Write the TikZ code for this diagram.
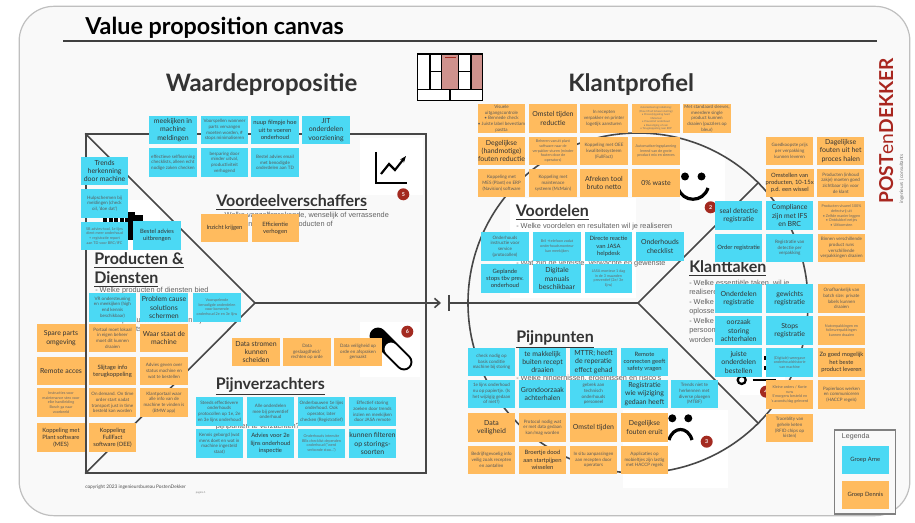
\documentclass[tikz,border=0pt]{standalone}
\usepackage{fontspec}
\setmainfont{Lato}
\newfontfamily\bodyFont{Liberation Sans}
\usetikzlibrary{arrows.meta}

\definecolor{armeBlue}{HTML}{4BD9F4}
\definecolor{dennisOrange}{HTML}{FFBB5E}
\definecolor{panelGray}{HTML}{F9F9F9}
\definecolor{badgeRed}{HTML}{A32A20}
\definecolor{brandRed}{HTML}{A8261F}
\definecolor{iconRose}{HTML}{CF928D}

\tikzset{
	stickyNote/.style={rectangle, minimum width=35.6pt, minimum height=21.3pt, inner sep=0pt, align=center},
	armeNote/.style={stickyNote, fill=armeBlue},
	dennisNote/.style={stickyNote, fill=dennisOrange},
	noteL/.style={font=\fontsize{5.2}{6.3}\selectfont, text=black!80},
	noteM/.style={font=\fontsize{4.4}{5.4}\selectfont, text=black!80},
	noteS/.style={font=\fontsize{3.4}{4.3}\selectfont, text=black!65},
	noteXS/.style={font=\fontsize{2.8}{3.5}\selectfont, text=black!60},
	noteXXS/.style={font=\fontsize{2}{2.6}\selectfont, text=black!55},
	canvasLine/.style={draw=black!72, line width=1.2pt},
	whitePatch/.style={fill=white, draw=none},
	iconLine/.style={draw=black, line width=2.4pt},
	badgeDot/.style={circle, fill=badgeRed, text=white, minimum size=9pt, inner sep=0pt, font=\bfseries\fontsize{4}{4}\selectfont},
	mainHead/.style={font=\bfseries\fontsize{18}{20}\selectfont, text=black!80, anchor=base west, inner sep=0pt},
	subHead/.style={font=\bfseries\fontsize{12}{13}\selectfont, text=black!80, anchor=base west, inner sep=0pt},
	bodyText/.style={font=\bodyFont\fontsize{5.5}{7.1}\selectfont, text=black!62, anchor=base west, align=left, inner sep=0pt},
}

\begin{document}
\begin{tikzpicture}[x=0.75pt, y=-0.75pt]
	\useasboundingbox (0,0) rectangle (915,523);

	\node[rectangle, draw=black!25, fill=panelGray, line width=0.9pt, rounded corners=26pt, minimum width=668pt, minimum height=382pt, inner sep=0pt](panelBox) at (464.5,261){};

	\fill[whitePatch] (360,138) rectangle (423,195);
	\fill[whitePatch] (360,322) rectangle (420,377);
	\fill[whitePatch] (100,200) rectangle (160,255);
	\fill[whitePatch] (510,198) rectangle (636,298);
	\fill[whitePatch] (680,150) rectangle (725,210);
	\fill[whitePatch] (623,410) rectangle (728,488);
	\fill[whitePatch] (740,350) rectangle (785,395);

	\node[font=\bfseries\fontsize{17.5}{19}\selectfont, text=black, anchor=base west, inner sep=0pt](titleText) at (85,35){Value proposition canvas};
	\coordinate (ruleStart) at (63,41);
	\coordinate (ruleEnd) at (877,41);
	\draw[draw=black!75, line width=0.9pt] (ruleStart) -- (ruleEnd);

	\node[mainHead](waardeHead) at (165.5,92){Waardepropositie};
	\node[mainHead](klantHead) at (568,92){Klantprofiel};

	\node[rectangle, canvasLine, minimum width=255pt, minimum height=254pt, inner sep=0pt](waardeBox) at (256,303.5){};
	\node[circle, canvasLine, minimum size=255pt, inner sep=0pt](klantCircle) at (638,303){};
	\coordinate (waardeCenter) at (255,303);
	\coordinate (klantCenter) at (638,303);
	\coordinate (rightTip) at (441,303);
	\coordinate (leftTip) at (432,303);
	\coordinate (barTop) at (449,295);
	\coordinate (barBottom) at (449,311);

	\draw[canvasLine] (waardeBox.north west) -- (waardeCenter);
	\draw[canvasLine] (waardeBox.south west) -- (waardeCenter);
	\draw[canvasLine, -{Straight Barb[length=4pt, width=7pt]}] (waardeCenter) -- (leftTip |- waardeCenter) -- (rightTip);
	\draw[canvasLine] (klantCenter) -- (barTop |- klantCenter);
	\draw[canvasLine] (barTop) -- (barBottom);
	\draw[canvasLine] (klantCenter) -- (klantCircle.45);
	\draw[canvasLine] (klantCenter) -- (klantCircle.-45);

	\draw[fill=white, draw=black, line width=1.1pt] (417.5,54) rectangle (482.5,100.5);
	\fill[iconRose] (441.7,54) rectangle (458.3,89.3);
	\fill[iconRose] (471,54) rectangle (482.5,89.3);
	\draw[draw=black, line width=1.1pt] (417.5,54) rectangle (482.5,100.5);
	\draw[draw=black, line width=1.1pt] (417.5,89.3) -- (482.5,89.3);
	\draw[draw=black, line width=1.1pt] (450,89.3) -- (450,100.5);
	\draw[draw=black, line width=1.1pt] (430,54) -- (430,89.3);
	\draw[draw=black, line width=1.1pt] (441.7,54) -- (441.7,89.3);
	\draw[draw=black, line width=1.1pt] (458.3,54) -- (458.3,89.3);
	\draw[draw=black, line width=1.1pt] (471,54) -- (471,89.3);
	\draw[draw=black, line width=1.1pt] (430,71.7) -- (441.7,71.7);
	\draw[draw=black, line width=1.1pt] (458.3,71.7) -- (471,71.7);
	\draw[draw=badgeRed, line width=1.1pt] (445,57.7) -- (456,57.7);

	\draw[draw=black, line width=1.6pt, line join=miter] (376,152) -- (376,183) -- (407,183);
	\draw[draw=black, line width=1.6pt, -{Stealth[length=5pt]}] (381,174) -- (389,164) -- (395,170) -- (406,156);
	\fill[black] (128,212) rectangle (135,240);
	\fill[black] (135,215) rectangle (143,225);
	\draw[draw=black, line width=3pt, dash pattern=on 3pt off 1.2pt] (103,220) -- (128,220);

	\draw[draw=black, line width=12.7pt, line cap=round] (378,336) -- (404,362);
	\draw[draw=white, line width=9.6pt, line cap=round] (391,349) -- (404,362);

	\fill[black] (685,176.5) circle (3pt);
	\fill[black] (701.5,176.5) circle (3pt);
	\draw[iconLine] (678,188) .. controls (683,203) and (703,203) .. (708,188);
	\fill[black] (672.3,418.3) circle (3pt);
	\fill[black] (688.3,418.3) circle (3pt);
	\draw[iconLine] (669,440) .. controls (673,426) and (688,426) .. (692,440);
	\fill[black] (764,355.7) rectangle (768,359.7);
	\fill[black] (764,366) rectangle (768,370);
	\draw[draw=black, line width=1.7pt] (741.7,380) circle (3pt);
	\draw[draw=black, line width=2.2pt] (752.7,380) -- (776,380);

	\node[badgeDot](badgeFive) at (403.3,194.3){5};
	\node[badgeDot](badgeSix) at (407.3,331.7){6};
	\node[badgeDot](badgeTwo) at (710.7,207.3){2};
	\node[badgeDot](badgeThree) at (706.7,441.7){3};
	\node[badgeDot](badgeFour) at (766,391.7){4};

	\node[subHead](voordeelHead) at (216,207){\underline{Voordeelverschaffers}};
	\node[subHead](productenHead) at (94,265){\underline{Producten \&}};
	\node[subHead](dienstenHead) at (94,284){\underline{Diensten}};
	\node[subHead](verzachtHead) at (215.5,390){\underline{Pijnverzachters}};
	\node[subHead](voordelenHead) at (515.5,217){\underline{Voordelen}};
	\node[subHead](pijnHead) at (516,343){\underline{Pijnpunten}};
	\node[subHead](takenHead) at (689,273){\underline{Klanttaken}};

	\node[bodyText](voordeelBodyOne) at (220,217.5){- Welke vanzelfsprekende, wenselijk of verrassende};
	\node[bodyText](voordeelBodyTwo) at (220,227){voordelen leveren uw producten of};
	\node[bodyText](productenBodyOne) at (95,292.5){- Welke producten of diensten bied};
	\node[bodyText](productenBodyTwo) at (95,323){- Welke producten of diensten zijn};
	\node[bodyText](productenBodyThree) at (95,332){van het grootste deel voor};
	\node[bodyText](verzachtBody) at (215.5,429){pijnpunten te verzachten?};
	\node[bodyText](voordelenBodyOne) at (516,228.5){- Welke voordelen en resultaten wil je realiseren};
	\node[bodyText](voordelenBodyTwo) at (516,265.5){- Wat zijn de vereiste, verwachte en gewenste};
	\node[bodyText](pijnBody) at (516,381){- Welke hindernissen, ergernissen en risico's};
	\node[bodyText](takenBodyOne) at (689,285.5){- Welke essentiële taken, wil je};
	\node[bodyText](takenBodyTwo) at (689,295){realiseren};
	\node[bodyText](takenBodyThree) at (689,304.5){- Welke};
	\node[bodyText](takenBodyFour) at (689,314){oplossen};
	\node[bodyText](takenBodyFive) at (689,323.5){- Welke};
	\node[bodyText](takenBodySix) at (689,333){persoonlijke};
	\node[bodyText](takenBodySeven) at (689,342.5){worden};

	\node[armeNote, noteL](meekijkenNote) at (173,130){meekijken in\\machine\\meldingen};
	\node[armeNote, noteS](voorspellenNote) at (224.5,130){Voorspellen wanneer\\parts vervangen\\moeten worden, \#\\stops minimaliseren};
	\node[armeNote, noteM](filmpjeNote) at (275,130){nuup filmpje hoe\\uit te voeren\\onderhoud};
	\node[armeNote, noteL](jitNote) at (326,130){JIT\\onderdelen\\voorziening};
	\node[armeNote, noteS](selflearningNote) at (173,162.5){effectieve selflearning\\checklists, alleen echt\\nodige zaken checken};
	\node[armeNote, noteS](besparingNote) at (224.5,162.5){besparing door\\minder uitval,\\productiviteit\\verhogend};
	\node[armeNote, noteS](emailNote) at (275,162.5){Bestel advies email\\met benodigde\\onderdelen aan TD};

	\node[armeNote, noteL](trendsNote) at (104.6,171){Trends\\herkenning\\door machine};
	\node[armeNote, noteS](hulpNote) at (104.6,203.5){Hulpschermen bij\\meldingen (check\\oil, 'doe dat')};
	\node[armeNote, noteXS](adviesToolNote) at (104.6,236){SB advies-tool, 1e lijns\\dient meer onderhoud\\+ registratie report\\aan TD voor BRC/IFC};
	\node[armeNote, noteM](uitbrengenNote) at (157,235.5){Bestel advies\\uitbrengen};
	\node[armeNote, noteS](vrNote) at (112.5,307.5){VR ondersteuning\\en meekijken (high\\end kennis\\beschikbaar)};
	\node[armeNote, noteL](problemNote) at (164,307.5){Problem cause\\solutions\\schermen};
	\node[armeNote, noteXS](benodigdNote) at (217,307.5){Voorspelende\\benodigde onderdelen\\voor komende\\onderhoud 2e en 3e lijns};

	\node[dennisNote, noteL](spareNote) at (61,338){Spare parts\\omgeving};
	\node[dennisNote, noteS](portaalNote) at (112.5,338){Portaal moet lokaal\\in eigen beheer\\moet dit kunnen\\draaien};
	\node[dennisNote, noteL](waarNote) at (164,338){Waar staat de\\machine};
	\node[dennisNote, noteL](remoteNote) at (61,371){Remote acces};
	\node[dennisNote, noteM](slijtageNote) at (112.5,371){Slijtage info\\terugkoppeling};
	\node[dennisNote, noteS](statusNote) at (164,371){Advies geven over\\status machine en\\wat te bestellen};
	\node[dennisNote, noteXS](instructiesNote) at (61,402.5){Instructies voor\\maintenance stex voor\\elke handleiding\\Bosch ga naar\\voorbeeld};
	\node[dennisNote, noteS](demandNote) at (112.5,402.5){On demand. On time\\order start nadat\\transport just in time\\besteld kan worden};
	\node[dennisNote, noteS](klantportaalNote) at (164,402.5){Klantportaal waar\\alle info van de\\machine te vinden is\\(BMW app)};
	\node[dennisNote, noteM](plantNote) at (61,437.5){Koppeling met\\Plant software\\(MES)};
	\node[dennisNote, noteM](fullfactNote) at (112.5,437.5){Koppeling\\FullFact\\software (OEE)};

	\node[dennisNote, noteM](inzichtNote) at (224.5,228){Inzicht krijgen};
	\node[dennisNote, noteM](efficientieNote) at (275.3,228){Efficientie\\verhogen};
	\node[dennisNote, noteL](stromenNote) at (256,352){Data stromen\\kunnen\\scheiden};
	\node[dennisNote, noteS](geslaagdNote) at (307,352){Data\\geslaagdheid/\\rechten op orde};
	\node[dennisNote, noteS](veiligOrdeNote) at (358,352){Data veiligheid op\\orde en afspraken\\gemaakt};

	\node[armeNote, noteS](protocollenNote) at (219.3,411.5){Steeds effectievere\\onderhouds\\protocollen op 1e, 2e\\en 3e lijns onderhoud};
	\node[armeNote, noteS](preventiefNote) at (270.5,411.5){Alle onderdelen\\mee bij preventief\\onderhoud};
	\node[armeNote, noteS](onderbouwenNote) at (321.5,411.5){Onderbouwen 1e lijns\\onderhoud. Ook\\operator, later\\checken (Registratief)};
	\node[armeNote, noteS](storingNote) at (372.5,411.5){Effectief storing\\zoeken door trends\\inzien en meekijken\\door JASA remote};
	\node[armeNote, noteS](kennisNote) at (219.3,443.5){Kennis geborgd (wat\\mens doet en wat in\\machine ingesteld\\staat)};
	\node[armeNote, noteM](inspectieNote) at (270.5,443.5){Advies voor 2e\\lijns onderhoud\\inspectie};
	\node[armeNote, noteXS](intensiteNote) at (321.5,443.5){Onderhouds intensite\\BBs checklist dependen\\onderhoud ("werd\\verbonde stoo...")};
	\node[armeNote, noteL](filterenNote) at (372.5,443.5){kunnen filteren\\op storings-\\soorten};

	\node[dennisNote, noteS](visueleNote) at (501.5,118.5){Visuele\\uitgangscontrole\\• Bennede check\\• Juiste label bevestiam\\pastta};
	\node[dennisNote, noteL](reductieNote) at (553,118.5){Omstel tijden\\reductie};
	\node[dennisNote, noteS](receptenNote) at (604,118.5){In recepten\\verpakker en printer\\logetijk aansturen};
	\node[dennisNote, noteXXS](robotNote) at (656,118.5){Automatisering/robotising:\\(Flow lift ed lichaam sluiting)\\• Proces(in)gedrag heart\\Materiaal\\• Preventief onderhoud\\• Bevestiging of cam\\• Terugkoppeling naar ERP};
	\node[dennisNote, noteS](sleevesNote) at (707,118.5){Met standaard sleeves,\\meerdere single\\product kunnen\\draaien (puzzlers op\\bleur)};
	\node[dennisNote, noteL](handmatigNote) at (501.5,151){Degelijkse\\(handmotige)\\fouten reductie};
	\node[dennisNote, noteXS](beherenNote) at (553,151){Beheren vanuit plant\\software naar de\\verpakker sturen (minder\\fouten door de\\operators)};
	\node[dennisNote, noteS](oeeNote) at (604,151){Koppeling met OEE\\kwaliteitssysteem\\(FullFact)};
	\node[dennisNote, noteXS](planningNote) at (656,151){Automatiseringsplanning\\lerend van de grote\\product mix en sleeves};
	\node[dennisNote, noteS](mesErpNote) at (501.5,183){Koppeling met\\MES (Plant) en ERP\\(Navision) software};
	\node[dennisNote, noteS](mcmainNote) at (553,183){Koppeling met\\maintenace\\systeem (McMain)};
	\node[dennisNote, noteL](afrekenNote) at (604,183){Afreken tool\\bruto netto};
	\node[dennisNote, noteL](wasteNote) at (656,183){0\% waste};

	\node[armeNote, noteS](instructieNote) at (505,246.5){Onderhouds\\instructie voor\\service\\(protocollen)};
	\node[armeNote, noteXS](brilNote) at (557,246.5){Bril +telefoon zodat\\onderhoudsmonteur\\kan meekijken};
	\node[armeNote, noteM](helpdeskNote) at (608.5,246.5){Directe reactie\\van JASA\\helpdesk};
	\node[armeNote, noteL](checklistNote) at (660,246.5){Onderhouds\\checklist};
	\node[armeNote, noteM](stopsNote) at (505,278.5){Geplande\\stops tbv prev.\\onderhoud};
	\node[armeNote, noteL](manualsNote) at (557,278.5){Digitale\\manuals\\beschikbaar};
	\node[armeNote, noteXS](jasaNote) at (608.5,278.5){JASA monteur 1 dag\\in de 3 maanden\\preventief (2e/ 3e\\lijns)};

	\node[armeNote, noteS](conditieNote) at (491.5,362){check nodig op\\basis conditie\\machine bij storing};
	\node[armeNote, noteL](makkelijkNote) at (542.5,362){te makkelijk\\buiten recept\\draaien};
	\node[armeNote, noteL](mttrNote) at (593.5,362){MTTR; heeft\\de reperatie\\effect gehad};
	\node[armeNote, noteM](connectenNote) at (644.5,362){Remote\\connecten geeft\\safety vragen};
	\node[armeNote, noteS](papiertjeNote) at (491.5,394){1e lijns onderhoud\\nu op papiertje. (Is\\het wijzigig gedaan\\of niet?)};
	\node[armeNote, noteL](oorzaakNote) at (542.5,394){Grondoorzaak\\achterhalen};
	\node[armeNote, noteS](gebrekNote) at (593.5,394){gebrek aan\\technisch\\onderhouds\\personeel};
	\node[armeNote, noteL](wijzigingNote) at (644.5,394){Registratie\\wie wijziging\\gedaan heeft};
	\node[armeNote, noteS](ploegenNote) at (694.5,394){Trends niet te\\herkennen met\\diverse ploegen\\(MTBF)};

	\node[dennisNote, noteL](veiligheidNote) at (491.5,427.5){Data\\veiligheid};
	\node[dennisNote, noteS](protocolNote) at (542.5,427.5){Protocol nodig wat\\er met data gedaan\\kan/mag worden};
	\node[dennisNote, noteL](omstelNote) at (593.5,427.5){Omstel tijden};
	\node[dennisNote, noteL](eruitNote) at (644.5,427.5){Degelijkse\\fouten eruit};
	\node[dennisNote, noteS](gevoeligNote) at (491.5,460){Bedrijfsgevoelig info\\veilig zoals recepten\\en aantallen};
	\node[dennisNote, noteM](broertjeNote) at (542.5,460){Broertje dood\\aan startpijpen\\wisselen};
	\node[dennisNote, noteS](insituNote) at (593.5,460){In situ aanpassingen\\aan recepten door\\operators};
	\node[dennisNote, noteS](haccpNote) at (644.5,460){Applicaties op\\mobieltjes zijn lastig\\met HACCP regels};

	\node[dennisNote, noteS](goedkoopNote) at (789.7,151){Goedkoopste prijs\\per verpakking\\kunnen leveren};
	\node[dennisNote, noteL](procesNote) at (840.7,151){Dagelijkse\\fouten uit het\\proces halen};
	\node[dennisNote, noteM](omstellenNote) at (789.7,183){Omstellen van\\producten, 10-15x\\p.d. een wissel};
	\node[dennisNote, noteS](zichtbaarNote) at (840.7,183){Producten (inhoud\\zakje) moeten goed\\zichtbaar zijn voor\\de klant};
	\node[armeNote, noteL](sealNote) at (738.7,215.7){seal detectie\\registratie};
	\node[armeNote, noteL](complianceNote) at (789.7,215.7){Compliance\\zijn met IFS\\en BRC};
	\node[dennisNote, noteXS](defectNote) at (841.5,215.7){Producten visueel 100\%\\defectvrij uit\\• Zelfde manier leggen\\• Ontdubbel netjes\\• Uitkomsten};
	\node[armeNote, noteM](orderNote) at (738.7,248){Order registratie};
	\node[armeNote, noteS](detectieNote) at (789.7,248){Registratie van\\detectie per\\verpakking};
	\node[dennisNote, noteS](runsNote) at (841.5,248){Binnen verschillende\\product runs\\verschillende\\verpakkingen draaien};
	\node[armeNote, noteL](onderdelenNote) at (738.7,298.5){Onderdelen\\registratie};
	\node[armeNote, noteL](gewichtsNote) at (789.7,298.5){gewichts\\registratie};
	\node[dennisNote, noteS](batchNote) at (841.5,298.5){Onafhankelijk van\\batch size: private\\labels kunnen\\draaien};
	\node[armeNote, noteL](achterhalenNote) at (738.7,330.5){oorzaak\\storing\\achterhalen};
	\node[armeNote, noteL](registratieNote) at (789.7,330.5){Stops\\registratie};
	\node[dennisNote, noteXS](folieNote) at (841.5,330.5){Nutverpakkingen en\\foliesverpakkingen\\kunnen draaien};
	\node[armeNote, noteL](bestellenNote) at (738.7,362.5){juiste\\onderdelen\\bestellen};
	\node[armeNote, noteXS](historieNote) at (789.7,362.5){(Digitale) weergave\\onderhoudshistorie\\van machine};
	\node[dennisNote, noteM](besteNote) at (841.5,362.5){Zo goed mogelijk\\het beste\\product leveren};
	\node[dennisNote, noteXS](kleineNote) at (789.7,394.5){Kleine orders / Korte\\runs\\S'morgens besteld en\\'s avonds/dag geleverd};
	\node[dennisNote, noteS](papierloosNote) at (841.5,394.5){Papierloos werken\\en communiceren\\(HACCP regels)};
	\node[dennisNote, noteS](traceNote) at (789.7,428){Traceblity van\\gehele keten\\(RFID chips op\\kisten)};

	\node[rectangle, draw=black!50, line width=0.9pt, fill=panelGray, minimum width=46pt, minimum height=63pt, inner sep=0pt](legendBox) at (865,472){};
	\node[font=\bodyFont\fontsize{5.3}{6}\selectfont, text=black!65, anchor=base west, inner sep=0pt](legendText) at (841.7,439){Legenda};
	\node[armeNote, noteM](groepArne) at (865.3,460){Groep Arne};
	\node[dennisNote, noteM](groepDennis) at (865.3,495){Groep Dennis};

	\node[font=\bfseries\fontsize{14.4}{16}\selectfont, text=brandRed, rotate=90, anchor=base west, inner sep=0pt](brandText) at (893,204){POST{\fontseries{l}\selectfont en}DEKKER};
	\node[font=\fontsize{3.6}{4}\selectfont, text=black!55, rotate=90, anchor=base west, inner sep=0pt](brandSub) at (903,204){ingenieurs | consultants};

	\node[font=\fontsize{3.6}{4}\selectfont, text=black!70, anchor=base west, inner sep=0pt](copyrightText) at (85,488.5){copyright 2023 ingenieursbureau PostenDekker};
	\node[font=\fontsize{2}{2}\selectfont, text=black!50, anchor=base east, inner sep=0pt](pageText) at (206,493.5){pagina 1};
\end{tikzpicture}
\end{document}
